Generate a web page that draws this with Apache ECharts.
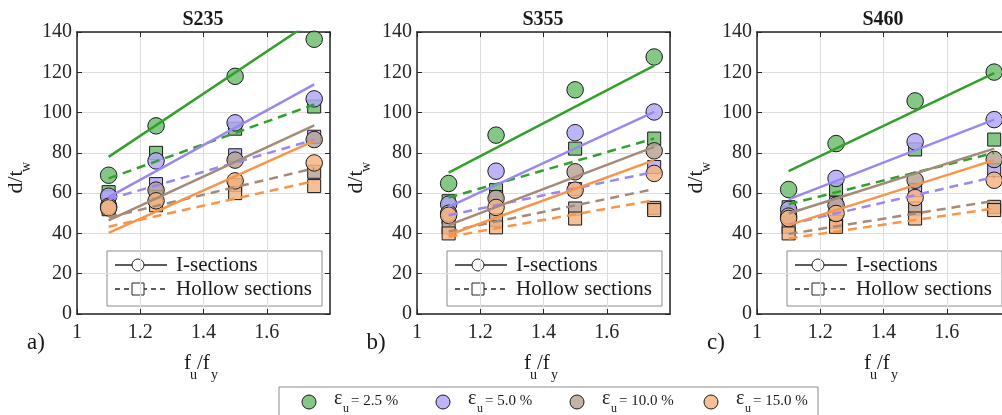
<!DOCTYPE html>
<html>
<head>
<meta charset="utf-8">
<script src="https://cdn.jsdelivr.net/npm/echarts@6/dist/echarts.min.js"></script>
<style>
html, body { margin: 0; padding: 0; background: #fff; }
#chart { width: 1002px; height: 415px; }
</style>
</head>
<body>
<div id="chart"></div>
<script>
// f_u/f_y values of the tested sections
var fuFy = [1.1, 1.25, 1.5, 1.75];
// ends of the regression lines
var fitX = [1.1, 1.75];
var grades = ['S235', 'S355', 'S460'];
var panelLabels = ['a)', 'b)', 'c)'];
var strains = ['2.5', '5.0', '10.0', '15.0'];

// d/tw, I-sections (rows: eps_u = 2.5, 5.0, 10.0, 15.0 %)
var iS235 = [[68.9, 93.4, 118, 136.4], [58.5, 76, 94.9, 106.8], [53.5, 61.5, 76.4, 86.6], [52.7, 56.2, 66.1, 75]];
var iS355 = [[64.8, 88.8, 111.3, 127.6], [54.5, 70.9, 90, 100.3], [50, 57.4, 70.6, 81], [49, 52.9, 61.5, 69.8]];
var iS460 = [[61.8, 84.6, 105.8, 120.1], [51.9, 67.3, 85.5, 96.5], [48.6, 54, 66.4, 76.7], [47.4, 49.9, 57.8, 66.4]];

// d/tw, hollow sections
var hS235 = [[60.5, 80, 92, 103], [58, 64.5, 78.8, 88], [53, 58, 64, 70.6], [52, 54, 60, 63.5]];
var hS355 = [[56, 61.5, 82.1, 87.1], [48, 58, 62, 73], [43, 46.6, 52.4, 52.7], [40, 43, 47.4, 51.6]];
var hS460 = [[53, 61.8, 81.7, 86.6], [50, 55, 61.5, 71.4], [43.3, 45.8, 52.4, 53.2], [40, 43.3, 47.4, 51.6]];

// regression lines, value at 1.1 and 1.75
var iFitS235 = [[78, 146], [58, 114], [46.5, 93.7], [40.3, 86]];
var iFitS355 = [[70.2, 123.3], [53.2, 100.3], [44.1, 83], [39.2, 76.4]];
var iFitS460 = [[70.9, 119.6], [56.9, 96.5], [49.9, 82.1], [44.1, 76.4]];
var hFitS235 = [[67.3, 104], [57, 86.5], [48, 72.3], [43.3, 66]];
var hFitS355 = [[57.8, 87.1], [49, 70.6], [41, 62], [38.3, 56.5]];
var hFitS460 = [[54.5, 80], [44.5, 68], [39.7, 56.2], [37.5, 52.4]];

var iData = [iS235, iS355, iS460];
var hData = [hS235, hS355, hS460];
var iFit = [iFitS235, iFitS355, iFitS460];
var hFit = [hFitS235, hFitS355, hFitS460];

var lineColors = ['#33a02c', '#9a88f2', '#a48b79', '#f7954a'];
var fillColors = ['rgba(112,190,112,0.85)', 'rgba(178,168,246,0.85)', 'rgba(184,166,152,0.85)', 'rgba(246,180,130,0.85)'];
var axisColor = '#262626';
var serifFont = 'Liberation Serif';

var chart = echarts.init(document.getElementById('chart'));

var grids = [], xAxes = [], yAxes = [], series = [], graphics = [];

function txt(x, y, text, size, opts) {
    opts = opts || {};
    var st = {
        text: text,
        fontFamily: serifFont,
        fontSize: size,
        fill: opts.color || '#1a1a1a',
        align: opts.align || 'center',
        verticalAlign: 'middle'
    };
    if (opts.bold) st.fontWeight = 'bold';
    return { type: 'text', x: x, y: y, z: 100, style: st };
}

grades.forEach(function (g, p) {
    var gl = 77 + p * 340;
    grids.push({ left: gl, top: 32, width: 253, height: 282, outerBoundsMode: 'none' });

    var tickStyle = { inside: true, length: 5, lineStyle: { color: axisColor, width: 1 } };
    var lineStyle = { onZero: false, lineStyle: { color: axisColor, width: 1.5 } };
    xAxes.push({
        gridIndex: p, type: 'value', min: 1, max: 1.8, interval: 0.2,
        axisLine: lineStyle, axisTick: tickStyle,
        axisLabel: {
            fontFamily: serifFont, fontSize: 20, color: axisColor, margin: 9, showMaxLabel: false,
            formatter: function (v) { return String(+v.toFixed(1)); }
        },
        splitLine: { show: true, lineStyle: { color: '#dedede', width: 1 } }
    });
    xAxes.push({
        gridIndex: p, type: 'value', position: 'top', min: 1, max: 1.8, interval: 0.2,
        axisLine: lineStyle, axisTick: tickStyle, axisLabel: { show: false }, splitLine: { show: false }
    });
    yAxes.push({
        gridIndex: p, type: 'value', min: 0, max: 140, interval: 20,
        axisLine: lineStyle, axisTick: tickStyle,
        axisLabel: { fontFamily: serifFont, fontSize: 20, color: axisColor, margin: 5 },
        splitLine: { show: true, lineStyle: { color: '#dedede', width: 1 } }
    });
    yAxes.push({
        gridIndex: p, type: 'value', position: 'right', min: 0, max: 140, interval: 20,
        axisLine: lineStyle, axisTick: tickStyle, axisLabel: { show: false }, splitLine: { show: false }
    });

    strains.forEach(function (s, k) {
        series.push({
            type: 'scatter', name: 'eps ' + s, xAxisIndex: p * 2, yAxisIndex: p * 2, z: 2,
            symbol: 'rect', symbolSize: 13, silent: true,
            itemStyle: { color: fillColors[k], borderColor: '#1a1a1a', borderWidth: 1, opacity: 1 },
            data: fuFy.map(function (x, i) { return [x, hData[p][k][i]]; })
        });
    });
    strains.forEach(function (s, k) {
        series.push({
            type: 'scatter', name: 'eps ' + s, xAxisIndex: p * 2, yAxisIndex: p * 2, z: 3,
            symbol: 'circle', symbolSize: 16.5, silent: true,
            itemStyle: { color: fillColors[k], borderColor: '#1a1a1a', borderWidth: 1, opacity: 1 },
            data: fuFy.map(function (x, i) { return [x, iData[p][k][i]]; })
        });
    });
    strains.forEach(function (s, k) {
        series.push({
            type: 'line', xAxisIndex: p * 2, yAxisIndex: p * 2, z: 4, symbol: 'none', clip: true, silent: true,
            lineStyle: { color: lineColors[k], width: 2.5, type: [9, 6] },
            data: fitX.map(function (x, i) { return [x, hFit[p][k][i]]; })
        });
        series.push({
            type: 'line', xAxisIndex: p * 2, yAxisIndex: p * 2, z: 5, symbol: 'none', clip: true, silent: true,
            lineStyle: { color: lineColors[k], width: 2.5, type: 'solid' },
            data: fitX.map(function (x, i) { return [x, iFit[p][k][i]]; })
        });
    });

    // title, panel label, axis names
    graphics.push(txt(gl + 126, 20, g, 20, { bold: true }));
    graphics.push(txt(gl - 41, 343, panelLabels[p], 23));
    graphics.push({
        type: 'group', x: gl - 61, y: 182, rotation: Math.PI / 2, z: 100,
        children: [txt(0, 0, 'd/t', 22), txt(15, 10, 'w', 14)]
    });
    graphics.push(txt(gl + 107, 363, 'f', 21, { align: 'left' }));
    graphics.push(txt(gl + 113, 375, 'u', 14, { align: 'left' }));
    graphics.push(txt(gl + 120, 363, '/f', 21, { align: 'left' }));
    graphics.push(txt(gl + 134, 375, 'y', 14, { align: 'left' }));

    // in-axes legend
    graphics.push({
        type: 'group', x: gl + 30, y: 251, z: 100,
        children: [
            { type: 'rect', shape: { x: 0, y: 0, width: 215, height: 55 }, style: { fill: '#fff', stroke: '#8c8c8c', lineWidth: 1 } },
            { type: 'line', shape: { x1: 8, y1: 14, x2: 60, y2: 14 }, style: { stroke: axisColor, lineWidth: 1.3 } },
            { type: 'circle', shape: { cx: 31, cy: 14, r: 6 }, style: { fill: '#fff', stroke: axisColor, lineWidth: 1 } },
            txt(69, 14, 'I-sections', 21, { align: 'left' }),
            { type: 'line', shape: { x1: 8, y1: 38, x2: 60, y2: 38 }, style: { stroke: axisColor, lineWidth: 1.3, lineDash: [5, 4] } },
            { type: 'rect', shape: { x: 25, y: 32, width: 12, height: 12 }, style: { fill: '#fff', stroke: axisColor, lineWidth: 1 } },
            txt(69, 38, 'Hollow sections', 21, { align: 'left' })
        ]
    });
});

// bottom legend
var legendKids = [
    { type: 'rect', shape: { x: 0, y: 0, width: 539, height: 60 }, style: { fill: '#fff', stroke: '#8c8c8c', lineWidth: 1 } }
];
strains.forEach(function (s, k) {
    var cx = 30 + k * 134;
    legendKids.push({ type: 'circle', shape: { cx: cx, cy: 15, r: 7 }, style: { fill: fillColors[k], stroke: '#1a1a1a', lineWidth: 1 } });
    legendKids.push(txt(cx + 25, 12, 'ε', 20, { align: 'left' }));
    legendKids.push(txt(cx + 34, 22, 'u', 12, { align: 'left' }));
    legendKids.push(txt(cx + 42, 14, '= ' + s + ' %', 15, { align: 'left' }));
});
graphics.push({ type: 'group', x: 279, y: 387, z: 100, children: legendKids });

chart.setOption({
    animation: false,
    textStyle: { fontFamily: serifFont },
    grid: grids,
    xAxis: xAxes,
    yAxis: yAxes,
    series: series,
    graphic: graphics
});
</script>
</body>
</html>
